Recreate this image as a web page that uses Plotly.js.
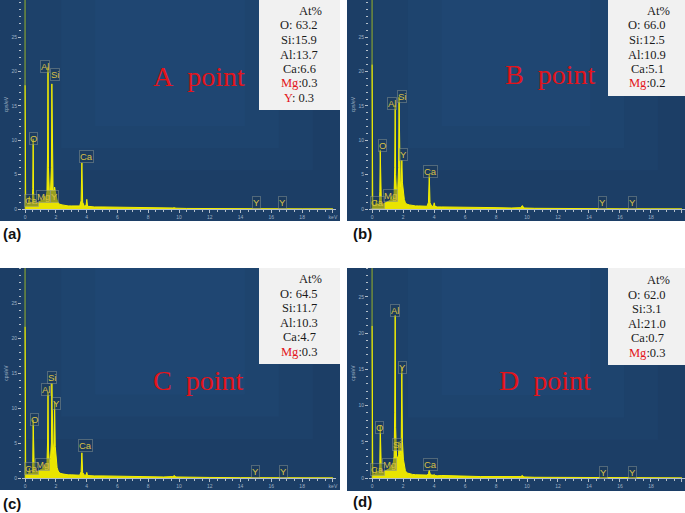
<!DOCTYPE html>
<html>
<head>
<meta charset="utf-8">
<script src="https://cdn.plot.ly/plotly-3.0.1.min.js"></script>
<style>
  body { margin: 0; background: #ffffff; }
  #chart { width: 685px; height: 513px; }
</style>
</head>
<body>
<div id="chart"></div>
<script>
// EDS spectra, energy in keV, counts in cps/eV
var energy = [
  0, 0.02, 0.04, 0.08, 0.15, 0.22, 0.26, 0.28, 0.30, 0.34,
  0.40, 0.47, 0.50, 0.525, 0.55, 0.60, 0.70, 0.80, 0.90, 1.00,
  1.10, 1.20, 1.25, 1.28, 1.35, 1.42, 1.46, 1.49, 1.52, 1.58,
  1.65, 1.71, 1.74, 1.77, 1.82, 1.88, 1.92, 1.96, 2.02, 2.08,
  2.15, 2.25, 2.40, 2.60, 2.80, 3.00, 3.30, 3.55, 3.64, 3.69,
  3.74, 3.85, 3.96, 4.01, 4.06, 4.20, 4.50, 5.00, 6.00, 7.00,
  8.00, 9.00, 9.60, 9.70, 9.80, 10.5, 12.0, 14.0, 16.0, 18.0, 20.0
];

var countsA = [
  18, 4, 1.2, 0.5, 0.6, 0.9, 1.3, 1.8, 1.2, 0.8,
  0.7, 1.0, 3, 10.2, 2.5, 0.9, 0.8, 0.9, 1.0, 1.1,
  1.3, 1.4, 1.9, 1.4, 1.5, 2.5, 8, 20.6, 6, 2.2,
  2.4, 6, 18.2, 5, 2.6, 2.8, 3.2, 2.6, 1.8, 1.3,
  0.9, 0.7, 0.6, 0.5, 0.45, 0.45, 0.4, 0.45, 1.2, 6.7,
  1.0, 0.4, 0.5, 1.4, 0.4, 0.35, 0.3, 0.3, 0.25, 0.2,
  0.2, 0.15, 0.15, 0.2, 0.12, 0.08, 0.05, 0.03, 0.02, 0.02, 0.02
];
var countsB = [
  21, 4, 1.2, 0.5, 0.5, 0.6, 0.9, 1.3, 0.9, 0.7,
  0.6, 0.8, 2.5, 8.6, 2, 0.8, 0.7, 0.8, 0.9, 1.0,
  1.1, 1.3, 1.8, 1.3, 1.4, 2.0, 6, 15.1, 5, 2.2,
  2.6, 6, 16.3, 5, 3.2, 4.2, 7.1, 3.8, 2.4, 1.4,
  0.9, 0.7, 0.6, 0.5, 0.45, 0.45, 0.4, 0.4, 1.0, 5.0,
  0.9, 0.4, 0.4, 0.9, 0.4, 0.3, 0.3, 0.3, 0.25, 0.2,
  0.2, 0.15, 0.2, 0.5, 0.15, 0.1, 0.06, 0.04, 0.03, 0.02, 0.02
];
var countsC = [
  21.6, 4, 1.2, 0.5, 0.5, 0.6, 0.9, 1.4, 0.9, 0.7,
  0.6, 0.8, 2.4, 8.3, 2, 0.8, 0.8, 0.9, 1.0, 1.1,
  1.2, 1.4, 1.9, 1.4, 1.6, 2.2, 5, 12.2, 4, 2.3,
  2.8, 5, 13.5, 5, 3.5, 5, 10.9, 4.5, 2.6, 1.5,
  1.0, 0.7, 0.6, 0.5, 0.45, 0.45, 0.4, 0.4, 0.9, 3.6,
  0.8, 0.4, 0.4, 0.8, 0.35, 0.3, 0.3, 0.3, 0.25, 0.2,
  0.2, 0.15, 0.2, 0.35, 0.15, 0.1, 0.08, 0.05, 0.03, 0.02, 0.02
];
var countsD = [
  21, 4, 1.2, 0.5, 0.5, 0.6, 0.9, 1.3, 0.9, 0.7,
  0.6, 0.8, 2.2, 7.3, 1.8, 0.8, 0.8, 0.9, 1.0, 1.1,
  1.2, 1.4, 1.8, 1.5, 1.8, 3, 9, 22.5, 7, 3.0,
  2.8, 3.2, 5.0, 3, 3.2, 5, 15.2, 5, 2.6, 1.5,
  1.0, 0.7, 0.6, 0.5, 0.45, 0.45, 0.4, 0.4, 0.6, 1.1,
  0.6, 0.4, 0.4, 0.5, 0.35, 0.3, 0.35, 0.3, 0.25, 0.2,
  0.2, 0.15, 0.2, 0.35, 0.15, 0.1, 0.08, 0.05, 0.03, 0.02, 0.02
];

// peak labels: element, energy position, height
var peaksA = ['Al', 'Si', 'O', 'Ca', 'Ca', 'Mg', 'Y', 'Y', 'Y'];
var peakXA = [1.3, 1.95, 0.52, 3.96, 0.4, 1.17, 1.9, 15.06, 16.75];
var peakYA = [20.8, 19.5, 10.3, 7.7, 1.3, 1.75, 1.75, 0.9, 0.9];

var peaksB = ['Si', 'Al', 'O', 'Y', 'Ca', 'Mg', 'Ca', 'Y', 'Y'];
var peakXB = [1.94, 1.29, 0.65, 2.0, 3.8, 1.16, 0.32, 14.9, 16.8];
var peakYB = [16.4, 15.3, 9.2, 7.9, 5.4, 2.0, 1.0, 0.9, 0.9];

var peaksC = ['Si', 'Al', 'Y', 'O', 'Ca', 'Mg', 'Ca', 'Y', 'Y'];
var peakXC = [1.77, 1.36, 2.06, 0.58, 3.94, 1.12, 0.43, 15.0, 16.8];
var peakYC = [14.3, 12.6, 10.7, 8.3, 4.7, 2.0, 1.4, 0.9, 0.9];

var peaksD = ['Al', 'Y', 'O', 'Si', 'Mg', 'Ca', 'Ca', 'Y', 'Y'];
var peakXD = [1.48, 1.94, 0.45, 1.61, 1.1, 0.32, 3.74, 14.97, 16.8];
var peakYD = [23.2, 15.2, 7.0, 4.6, 1.9, 1.2, 1.9, 0.8, 0.8];

// composition tables (At%)
var RED = '<span style="color:#e3141b">';
var tableA = ['At%', 'O: 63.2', 'Si:15.9', 'Al:13.7', 'Ca:6.6', RED + 'Mg</span>:0.3', RED + 'Y</span>: 0.3'];
var tableB = ['At%', 'O: 66.0', 'Si:12.5', 'Al:10.9', 'Ca:5.1', RED + 'Mg</span>:0.2'];
var tableC = ['At%', 'O: 64.5', 'Si:11.7', 'Al:10.3', 'Ca:4.7', RED + 'Mg</span>:0.3'];
var tableD = ['At%', 'O: 62.0', 'Si:3.1', 'Al:21.0', 'Ca:0.7', RED + 'Mg</span>:0.3'];

var pointNames = ['A\u00a0\u00a0point', 'B\u00a0\u00a0point', 'C\u00a0\u00a0point', 'D\u00a0\u00a0point'];
var panelTags = ['(a)', '(b)', '(c)', '(d)'];

var xTicks = [0, 2, 4, 6, 8, 10, 12, 14, 16, 18, 20];
var xTickText = ['0', '2', '4', '6', '8', '10', '12', '14', '16', '18', 'keV'];
var yTicks = [0, 5, 10, 15, 20, 25];

var counts = [countsA, countsB, countsC, countsD];
var peaks = [peaksA, peaksB, peaksC, peaksD];
var peakX = [peakXA, peakXB, peakXC, peakXD];
var peakY = [peakYA, peakYB, peakYC, peakYD];
var tables = [tableA, tableB, tableC, tableD];

// pixel geometry of each panel
var W = 685, H = 513;
var panels = [
  {x: [22, 336], y: [0, 209], yMax: 30.4, bg: [0, 0, 340, 221], box: [259, 0, 340, 110], boxCx: 299, tableTop: 11, point: [199, 76], tag: [12, 233]},
  {x: [369, 685], y: [0, 209], yMax: 30.4, bg: [347, 0, 685, 221], box: [608, 0, 685, 96], boxCx: 647, tableTop: 11, point: [550, 75], tag: [362, 233]},
  {x: [22, 336], y: [268, 478], yMax: 30, bg: [0, 268, 340, 490], box: [259, 268, 340, 364], boxCx: 299, tableTop: 279, point: [198, 380], tag: [12, 503]},
  {x: [369, 685], y: [268, 478], yMax: 29, bg: [347, 268, 685, 491], box: [608, 268, 685, 365], boxCx: 647, tableTop: 280, point: [545, 380], tag: [362, 501]}
];

function fx(px) { return px / W; }
function fy(py) { return 1 - py / H; }

var SERIF = '"Liberation Serif", "Times New Roman", serif';
var SANS = '"Liberation Sans", Arial, sans-serif';
var tickGrey = '#b4bfca';
var tickFont = {family: SANS, size: 5, color: '#9eb0c3'};

var data = [];
var shapes = [];
var annotations = [];
var layout = {
  width: W, height: H,
  margin: {l: 0, r: 0, t: 0, b: 0},
  paper_bgcolor: '#ffffff',
  plot_bgcolor: 'rgba(0,0,0,0)',
  showlegend: false
};

panels.forEach(function (p, i) {
  var n = i === 0 ? '' : String(i + 1);
  var xr = 'x' + n, yr = 'y' + n;

  layout['xaxis' + n] = {
    domain: [fx(p.x[0]), fx(p.x[1])],
    range: [-0.2, 20.2],
    anchor: yr,
    tickmode: 'array', tickvals: xTicks, ticktext: xTickText,
    ticks: 'outside', ticklen: 3, tickcolor: tickGrey, tickfont: tickFont,
    minor: {dtick: 0.5, tick0: 0, ticks: 'outside', ticklen: 2, tickcolor: tickGrey},
    showgrid: false, zeroline: false,
    showline: true, linecolor: tickGrey, linewidth: 1,
    fixedrange: true
  };
  layout['yaxis' + n] = {
    domain: [fy(p.y[1]), fy(p.y[0])],
    range: [0, p.yMax],
    anchor: xr,
    tickmode: 'array', tickvals: yTicks,
    ticks: 'outside', ticklen: 3, tickcolor: tickGrey, tickfont: tickFont,
    minor: {dtick: 1, tick0: 0, ticks: 'outside', ticklen: 2, tickcolor: tickGrey},
    showgrid: false, zeroline: false, showline: false,
    title: {text: 'cps/eV', font: {family: SANS, size: 5, color: '#9eb0c3'}, standoff: 2},
    fixedrange: true
  };

  // dark blue panel with a soft lighter centre
  var b = p.bg;
  shapes.push({type: 'rect', xref: 'paper', yref: 'paper', layer: 'below',
    x0: fx(b[0]), x1: fx(b[2]), y0: fy(b[3]), y1: fy(b[1]),
    fillcolor: '#1c3e66', line: {width: 0}});
  [0.08, 0.18, 0.28].forEach(function (k) {
    var w = b[2] - b[0], h = b[3] - b[1];
    shapes.push({type: 'rect', xref: 'paper', yref: 'paper', layer: 'below',
      x0: fx(b[0] + w * k), x1: fx(b[2] - w * k), y0: fy(b[3] - h * (k + 0.15)), y1: fy(b[1]),
      fillcolor: 'rgba(48,104,160,0.09)', line: {width: 0}});
  });
  // olive marker line at 0 keV
  shapes.push({type: 'line', xref: xr, yref: yr + ' domain', layer: 'below',
    x0: 0, x1: 0, y0: 0, y1: 1, line: {color: '#6f8c3e', width: 1.5}});

  // composition box
  var bx = p.box;
  shapes.push({type: 'rect', xref: 'paper', yref: 'paper', layer: 'above',
    x0: fx(bx[0]), x1: fx(bx[2]), y0: fy(bx[3]), y1: fy(bx[1]),
    fillcolor: '#f1f1f1', line: {width: 0}});
  tables[i].forEach(function (t, j) {
    annotations.push({xref: 'paper', yref: 'paper',
      x: fx(p.boxCx + (j === 0 ? 11 : 0)), y: fy(p.tableTop + j * 14.5),
      xanchor: 'center', yanchor: 'middle', showarrow: false, text: t,
      font: {family: SERIF, size: 12.5, color: '#1a1a1a'}});
  });

  // spectrum
  data.push({
    x: energy, y: counts[i], xaxis: xr, yaxis: yr,
    type: 'scatter', mode: 'lines',
    line: {color: '#f4ef00', width: 1},
    fill: 'tozeroy', fillcolor: '#e9e400',
    hoverinfo: 'skip'
  });

  // element labels
  peaks[i].forEach(function (el, j) {
    annotations.push({xref: xr, yref: yr, x: peakX[i][j], y: peakY[i][j],
      text: el, showarrow: false, xanchor: 'center', yanchor: 'middle',
      font: {family: SANS, size: 9.5, color: '#d8c147'},
      bordercolor: 'rgba(150,160,150,0.45)', borderwidth: 1, borderpad: 0,
      bgcolor: 'rgba(28,52,80,0.4)'});
  });

  annotations.push({xref: 'paper', yref: 'paper', x: fx(p.point[0]), y: fy(p.point[1]),
    xanchor: 'center', yanchor: 'middle', showarrow: false, text: pointNames[i],
    font: {family: SERIF, size: 28, color: '#e3141b'}});

  annotations.push({xref: 'paper', yref: 'paper', x: fx(p.tag[0]), y: fy(p.tag[1]),
    xanchor: 'center', yanchor: 'middle', showarrow: false, text: '<b>' + panelTags[i] + '</b>',
    font: {family: SANS, size: 15, color: '#111111'}});
});

layout.shapes = shapes;
layout.annotations = annotations;

Plotly.newPlot('chart', data, layout, {displayModeBar: false, staticPlot: true});
</script>
</body>
</html>
